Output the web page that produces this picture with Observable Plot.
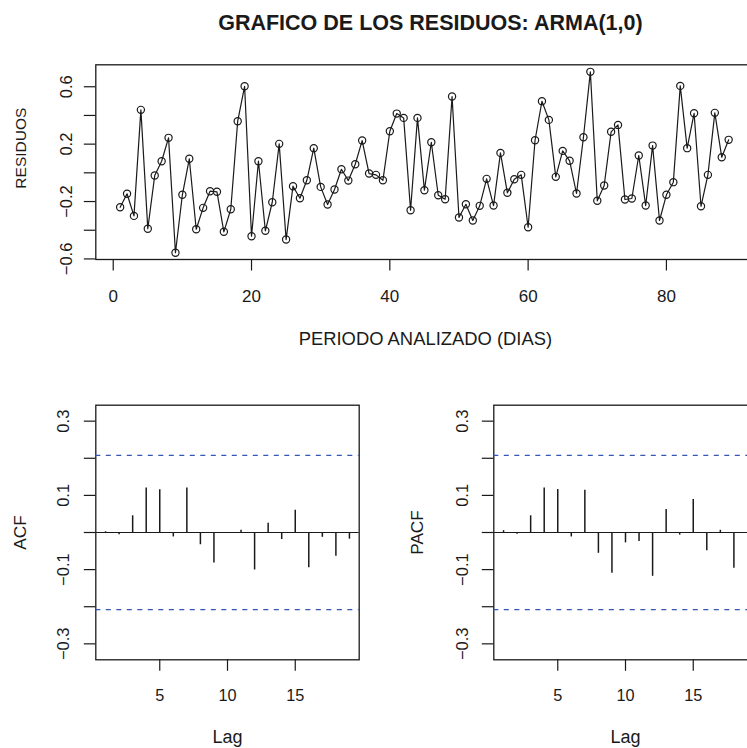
<!DOCTYPE html>
<html><head><meta charset="utf-8">
<script src="https://cdn.jsdelivr.net/npm/d3@7"></script>
<script src="https://cdn.jsdelivr.net/npm/@observablehq/plot@0.6"></script>
<style>
body{margin:0;background:#fff;}
#wrap{position:relative;width:747px;height:748px;overflow:hidden;background:#fff;}
#wrap svg{position:absolute;}
</style></head><body><div id="wrap"></div>
<script>
// ---------- data ----------
const titleText = "GRAFICO DE LOS RESIDUOS: ARMA(1,0)";
const xLabelTop = "PERIODO ANALIZADO (DIAS)";
const yLabelTop = "RESIDUOS";
const residuals = [
 -0.240,-0.146,-0.300, 0.439,-0.390,-0.019, 0.081, 0.244,-0.557,-0.153,
  0.098,-0.393,-0.244,-0.128,-0.132,-0.411,-0.254, 0.360, 0.603,-0.442,
  0.081,-0.404,-0.205, 0.202,-0.465,-0.093,-0.177,-0.052, 0.172,-0.098,
 -0.221,-0.116, 0.025,-0.054, 0.060, 0.225,-0.005,-0.014,-0.052, 0.290,
  0.413, 0.383,-0.261, 0.383,-0.121, 0.213,-0.156,-0.184, 0.532,-0.311,
 -0.219,-0.332,-0.230,-0.042,-0.228, 0.139,-0.139,-0.045,-0.014,-0.379,
  0.227, 0.499, 0.369,-0.028, 0.153, 0.084,-0.144, 0.248, 0.704,-0.195,
 -0.088, 0.286, 0.334,-0.186,-0.179, 0.121,-0.228, 0.190,-0.332,-0.153,
 -0.065, 0.606, 0.172, 0.415,-0.233,-0.014, 0.418, 0.109, 0.230
];
const topXTicks = [0, 20, 40, 60, 80];
const topYTicks = [-0.6, -0.4, -0.2, 0, 0.2, 0.4, 0.6];
const topYLabels = [-0.6, -0.2, 0.2, 0.6];

const acfValues = [0.002,-0.006,0.045,0.120,0.115,-0.012,0.120,-0.033,-0.082,-0.002,
                   0.006,-0.101,0.025,-0.019,0.060,-0.095,-0.013,-0.064,-0.018];
const pacfValues = [0.005,-0.005,0.045,0.120,0.116,-0.012,0.114,-0.056,-0.110,-0.028,
                    -0.024,-0.118,0.062,-0.007,0.089,-0.049,0.006,-0.096];
const ciBound = 0.2078;
const lagXTicks = [5, 10, 15];
const lagYTicks = [-0.3, -0.2, -0.1, 0, 0.1, 0.2, 0.3];
const lagYLabels = [-0.3, -0.1, 0.1, 0.3];

// ---------- helpers ----------
const FONT = "'Liberation Sans', Arial, Helvetica, sans-serif";
const INK = "#1a1a1a";
const fmt = d => (d < 0 ? "\u2212" : "") + Math.abs(d).toFixed(1);
const wrapEl = document.getElementById("wrap");

function place(svg, left, topPx) {
  svg.style.left = left + "px";
  svg.style.top = topPx + "px";
  wrapEl.appendChild(svg);
}
const baseStyle = {fontFamily: FONT, background: "transparent", overflow: "visible", maxWidth: "none", color: INK};

// ---------- top panel ----------
const resData = residuals.map((v, i) => ({day: i + 1, value: v}));
const topPanel = Plot.plot({
  width: 760, height: 360,
  marginLeft: 95.3, marginRight: 7.5, marginTop: 64.3, marginBottom: 101,
  x: {domain: [-2.52, 92.52]},
  y: {domain: [-0.604, 0.753]},
  style: baseStyle,
  marks: [
    Plot.frame({stroke: INK, strokeWidth: 1.3}),
    Plot.axisX(topXTicks, {tickSize: 11.5, tickFormat: () => "", stroke: INK, strokeWidth: 1.2, label: null}),
    Plot.axisY(topYTicks, {tickSize: 11.5, tickFormat: () => "", stroke: INK, strokeWidth: 1.2, label: null}),
    Plot.text(topXTicks, {x: d => d, text: d => String(d), frameAnchor: "bottom", dy: 42.7, lineAnchor: "bottom", fontSize: 17, fill: INK}),
    Plot.text(topYLabels, {y: d => d, text: fmt, frameAnchor: "left", dx: -23.6, rotate: -90, lineAnchor: "bottom", textAnchor: "middle", fontSize: 16.5, fill: INK}),
    Plot.line(resData, {x: "day", y: "value", stroke: INK, strokeWidth: 1.2}),
    Plot.dot(resData, {x: "day", y: "value", r: 3.6, stroke: INK, strokeWidth: 1.2, fill: "none"}),
    Plot.text([xLabelTop], {text: d => d, frameAnchor: "bottom", dy: 85, dx: 1, lineAnchor: "bottom", fontSize: 18.4, fill: INK}),
    Plot.text([yLabelTop], {text: d => d, frameAnchor: "left", dx: -69.8, dy: -14, rotate: -90, lineAnchor: "bottom", textAnchor: "middle", fontSize: 15.5, fill: INK}),
    Plot.text([titleText], {text: d => d, frameAnchor: "top", dy: -35, dx: 6, lineAnchor: "bottom", fontSize: 21.5, fontWeight: "bold", fill: INK})
  ]
});
place(topPanel, 0, 0);

// ---------- correlogram panels ----------
function correlogram(values, yLabel, yLabDx, tickDx, width, ml, mr) {
  const data = values.map((v, i) => ({lag: i + 1, value: v}));
  return Plot.plot({
    width, height: 358,
    marginLeft: ml, marginRight: mr, marginTop: 14.7, marginBottom: 88.7,
    x: {domain: [0.28, 19.72]},
    y: {domain: [-0.343, 0.343]},
    style: baseStyle,
    marks: [
      Plot.frame({stroke: INK, strokeWidth: 1.3}),
      Plot.axisX(lagXTicks, {tickSize: 11.5, tickFormat: () => "", stroke: INK, strokeWidth: 1.2, label: null}),
      Plot.axisY(lagYTicks, {tickSize: 11.5, tickFormat: () => "", stroke: INK, strokeWidth: 1.2, label: null}),
      Plot.text(lagXTicks, {x: d => d, text: d => String(d), frameAnchor: "bottom", dy: 40.7, lineAnchor: "bottom", fontSize: 16.3, fill: INK}),
      Plot.text(lagYLabels, {y: d => d, text: fmt, frameAnchor: "left", dx: tickDx, rotate: -90, lineAnchor: "bottom", textAnchor: "middle", fontSize: 16.5, fill: INK}),
      Plot.ruleY([0], {stroke: INK, strokeWidth: 1.2}),
      Plot.ruleY([ciBound, -ciBound], {stroke: "#3556b5", strokeWidth: 1.2, strokeDasharray: "5,5.5"}),
      Plot.ruleX(data, {x: "lag", y1: 0, y2: "value", stroke: INK, strokeWidth: 1.5}),
      Plot.text(["Lag"], {text: d => d, frameAnchor: "bottom", dy: 83.4, lineAnchor: "bottom", fontSize: 18, fill: INK}),
      Plot.text([yLabel], {text: d => d, frameAnchor: "left", dx: yLabDx, rotate: -90, lineAnchor: "bottom", textAnchor: "middle", fontSize: 17.2, fill: INK})
    ]
  });
}
place(correlogram(acfValues, "ACF", -70.3, -26.6, 373, 95.3, 14.3), 0, 390);
place(correlogram(pacfValues, "PACF", -71.3, -25.8, 390, 113.3, 13.3), 380, 390);
</script>
</body></html>
